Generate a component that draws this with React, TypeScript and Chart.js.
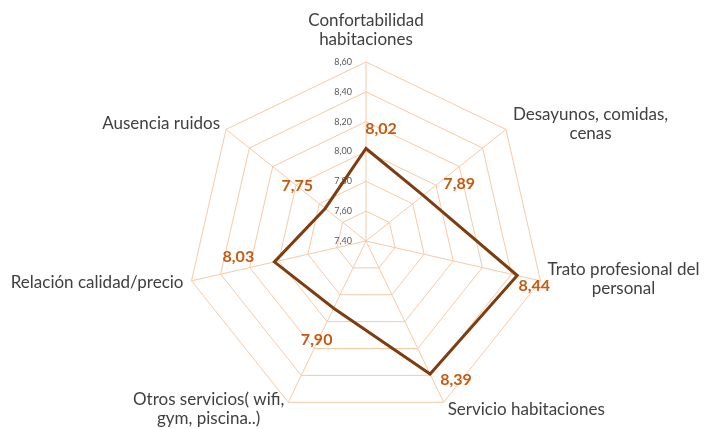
import React, { useEffect, useRef } from "react";
import { Chart, registerables } from "chart.js";

Chart.register(...registerables);

const categories: string[][] = [
  ["Confortabilidad", "habitaciones"],
  ["Desayunos, comidas,", "cenas"],
  ["Trato profesional del", "personal"],
  ["Servicio habitaciones"],
  ["Otros servicios( wifi,", "gym, piscina..)"],
  ["Relación calidad/precio"],
  ["Ausencia ruidos"],
];
const values: number[] = [8.02, 7.89, 8.44, 8.39, 7.9, 8.03, 7.75];
const tickValues: number[] = [7.4, 7.6, 7.8, 8.0, 8.2, 8.4, 8.6];

// styling: placement of category labels relative to the axis ends
const labelAlign: CanvasTextAlign[] = ["center", "left", "left", "left", "right", "right", "right"];
const labelDx: number[] = [0, 7, 7, 4, -4, -8, -6];
const labelDy: number[] = [-32, -5, -2, 7, 7, 2, -6];
// styling: placement of value labels relative to the data points
const valueDx: number[] = [15, 36, 17, 26, -17, -36, -28];
const valueDy: number[] = [-20, -12, 10, 6, 32, -5, -23];

const fmt = (v: number) => v.toFixed(2).replace(".", ",");
const FONT = "Lato, 'DejaVu Sans', sans-serif";

const decorPlugin = {
  id: "decor",
  beforeDatasetsDraw(chart: any) {
    const scale = chart.scales.r;
    const ctx = chart.ctx as CanvasRenderingContext2D;
    ctx.save();
    ctx.font = `9px ${FONT}`;
    ctx.fillStyle = "#595959";
    ctx.textAlign = "right";
    ctx.textBaseline = "middle";
    tickValues.forEach((t) => {
      const d = scale.getDistanceFromCenterForValue(t);
      ctx.fillText(fmt(t), scale.xCenter - 14, scale.yCenter - d);
    });
    ctx.restore();
  },
  afterDatasetsDraw(chart: any) {
    const scale = chart.scales.r;
    const ctx = chart.ctx as CanvasRenderingContext2D;
    ctx.save();
    // category labels
    ctx.font = `17px ${FONT}`;
    ctx.fillStyle = "#404040";
    ctx.textAlign = "center";
    ctx.textBaseline = "middle";
    const lh = 19;
    categories.forEach((lines, i) => {
      const p = scale.getPointPosition(i, scale.drawingArea);
      const w = Math.max(...lines.map((l) => ctx.measureText(l).width));
      let cx = p.x + labelDx[i];
      if (labelAlign[i] === "left") cx += w / 2;
      else if (labelAlign[i] === "right") cx -= w / 2;
      const cy = p.y + labelDy[i];
      const y0 = cy - ((lines.length - 1) * lh) / 2;
      lines.forEach((l, k) => ctx.fillText(l, cx, y0 + k * lh));
    });
    // value labels
    ctx.font = `bold 16px ${FONT}`;
    ctx.fillStyle = "#C55A11";
    values.forEach((v, i) => {
      const p = scale.getPointPositionForValue(i, v);
      ctx.fillText(fmt(v), p.x + valueDx[i], p.y + valueDy[i]);
    });
    ctx.restore();
  },
};

export default function App() {
  const ref = useRef<HTMLCanvasElement>(null);
  useEffect(() => {
    if (!ref.current) return;
    const chart = new Chart(ref.current, {
      type: "radar",
      data: {
        labels: categories,
        datasets: [
          {
            data: values,
            borderColor: "#7E3D0E",
            backgroundColor: "rgba(0,0,0,0)",
            borderWidth: 3,
            pointRadius: 0,
            fill: false,
            tension: 0,
          },
        ],
      },
      options: {
        animation: false,
        responsive: false,
        devicePixelRatio: 1,
        layout: { padding: { top: 62, bottom: 9, left: 187, right: 159 } },
        plugins: { legend: { display: false }, tooltip: { enabled: false } },
        scales: {
          r: {
            min: 7.4,
            max: 8.6,
            beginAtZero: false,
            ticks: { display: false, stepSize: 0.2 },
            pointLabels: { display: false },
            grid: { color: "#F6C9A6", lineWidth: 1 },
            angleLines: { color: "#F6C9A6", lineWidth: 1 },
          },
        },
      },
      plugins: [decorPlugin],
    });
    return () => chart.destroy();
  }, []);
  return (
    <canvas
      ref={ref}
      width={704}
      height={429}
      style={{ position: "absolute", left: 0, top: 0, width: 704, height: 429 }}
    />
  );
}
